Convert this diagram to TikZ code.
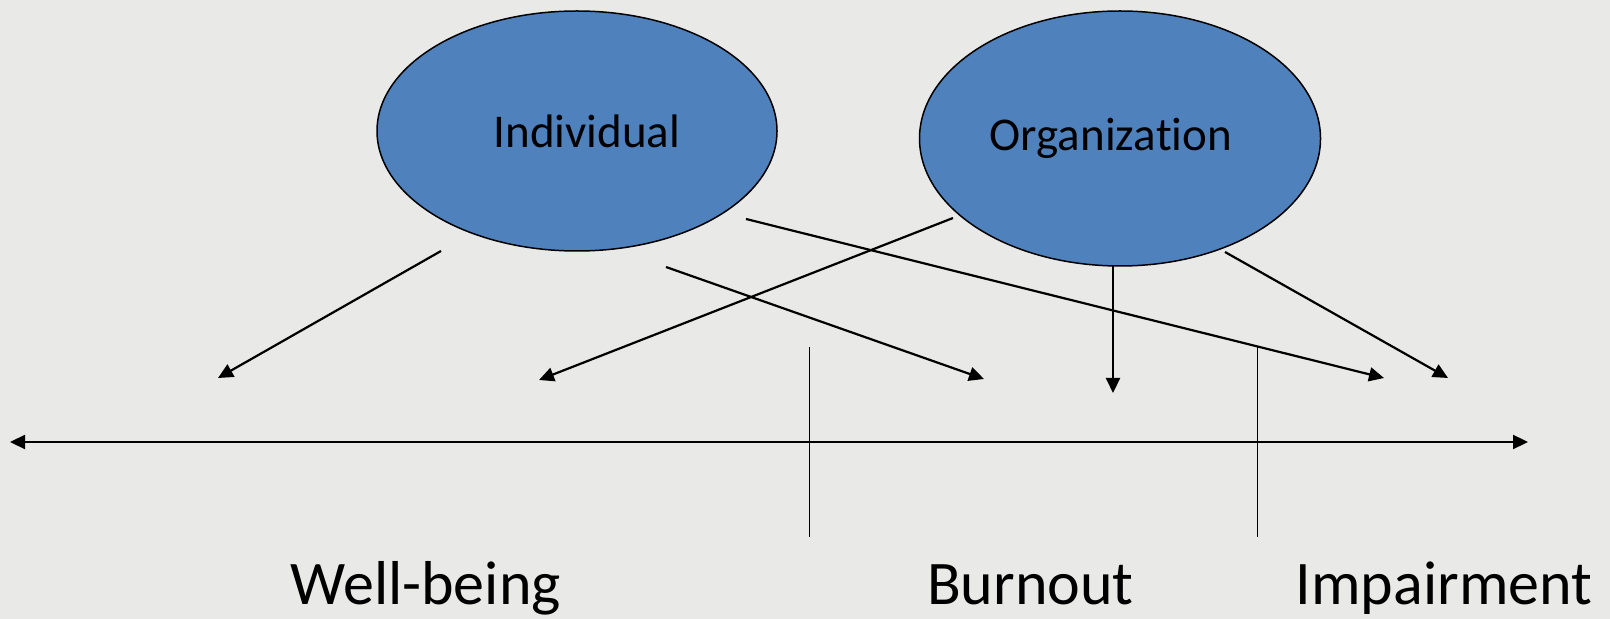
\documentclass[tikz,border=0pt]{standalone}
\usepackage{fontspec}
\setmainfont[Ligatures=NoCommon,RawFeature={-liga;-clig;-calt;-dlig}]{Carlito}
\usetikzlibrary{arrows.meta,shapes.geometric}
\definecolor{bgc}{HTML}{E9E9E7}
\definecolor{ellc}{HTML}{4F81BD}
\tikzset{
  blob/.style={ellipse,draw=black,line width=0.75pt,fill=ellc,inner sep=0pt},
  conn/.style={line width=1.1pt,-{Triangle[length=7.5pt,width=7pt]}},
  axis/.style={line width=1.1pt,{Triangle[length=7.5pt,width=7pt]}-{Triangle[length=7.5pt,width=7pt]}},
  tick/.style={line width=0.5pt},
  lab/.style={font=\fontsize{31}{36}\selectfont,anchor=base,inner sep=0pt},
  inlab/.style={font=\fontsize{23.5}{28}\selectfont,inner sep=0pt}
}
\begin{document}
\begin{tikzpicture}[x=0.5pt,y=-0.5pt]
\fill[bgc] (0,0) rectangle (1610,619);
\useasboundingbox (0,0) rectangle (1610,619);
% ellipses
\node[blob,minimum width=200pt,minimum height=120pt,label={[inlab,xshift=5pt]center:Individual}] (ind) at (577,131) {};
\node[blob,minimum width=200.5pt,minimum height=127.5pt,label={[inlab,xshift=-4.5pt]center:Organiza\kern0pt tion}] (org) at (1120,138.5) {};
% arrow end points
\coordinate (s1) at (441,251);  \coordinate (e1) at (218,378);
\coordinate (s2) at (953,218);  \coordinate (e2) at (539,380);
\coordinate (s3) at (666,267);  \coordinate (e3) at (984,379);
\coordinate (s4) at (746,219);  \coordinate (e4) at (1384,378);
\coordinate (s5) at (1113,266); \coordinate (e5) at (1113,393);
\coordinate (s6) at (1225,252); \coordinate (e6) at (1448,378);
\coordinate (axl) at (10,442);  \coordinate (axr) at (1528,442);
\coordinate (t1a) at (809,347); \coordinate (t1b) at (809,537);
\coordinate (t2a) at (1257,347); \coordinate (t2b) at (1257,537);
% connectors
\draw[conn] (s1) -- (e1);
\draw[conn] (s2) -- (e2);
\draw[conn] (s3) -- (e3);
\draw[conn] (s4) -- (e4);
\draw[conn] (s5) -- (e5);
\draw[conn] (s6) -- (e6);
\draw[axis] (axl) -- (axr);
\draw[tick] (t1a) -- (t1b);
\draw[tick] (t2a) -- (t2b);
% labels
\node[lab] (wb) at (425.5,604) {Well-being};
\node[lab] (bo) at (1030.5,604) {Burnout};
\node[lab] (im) at (1444,604) {Impairment};
\end{tikzpicture}
\end{document}
